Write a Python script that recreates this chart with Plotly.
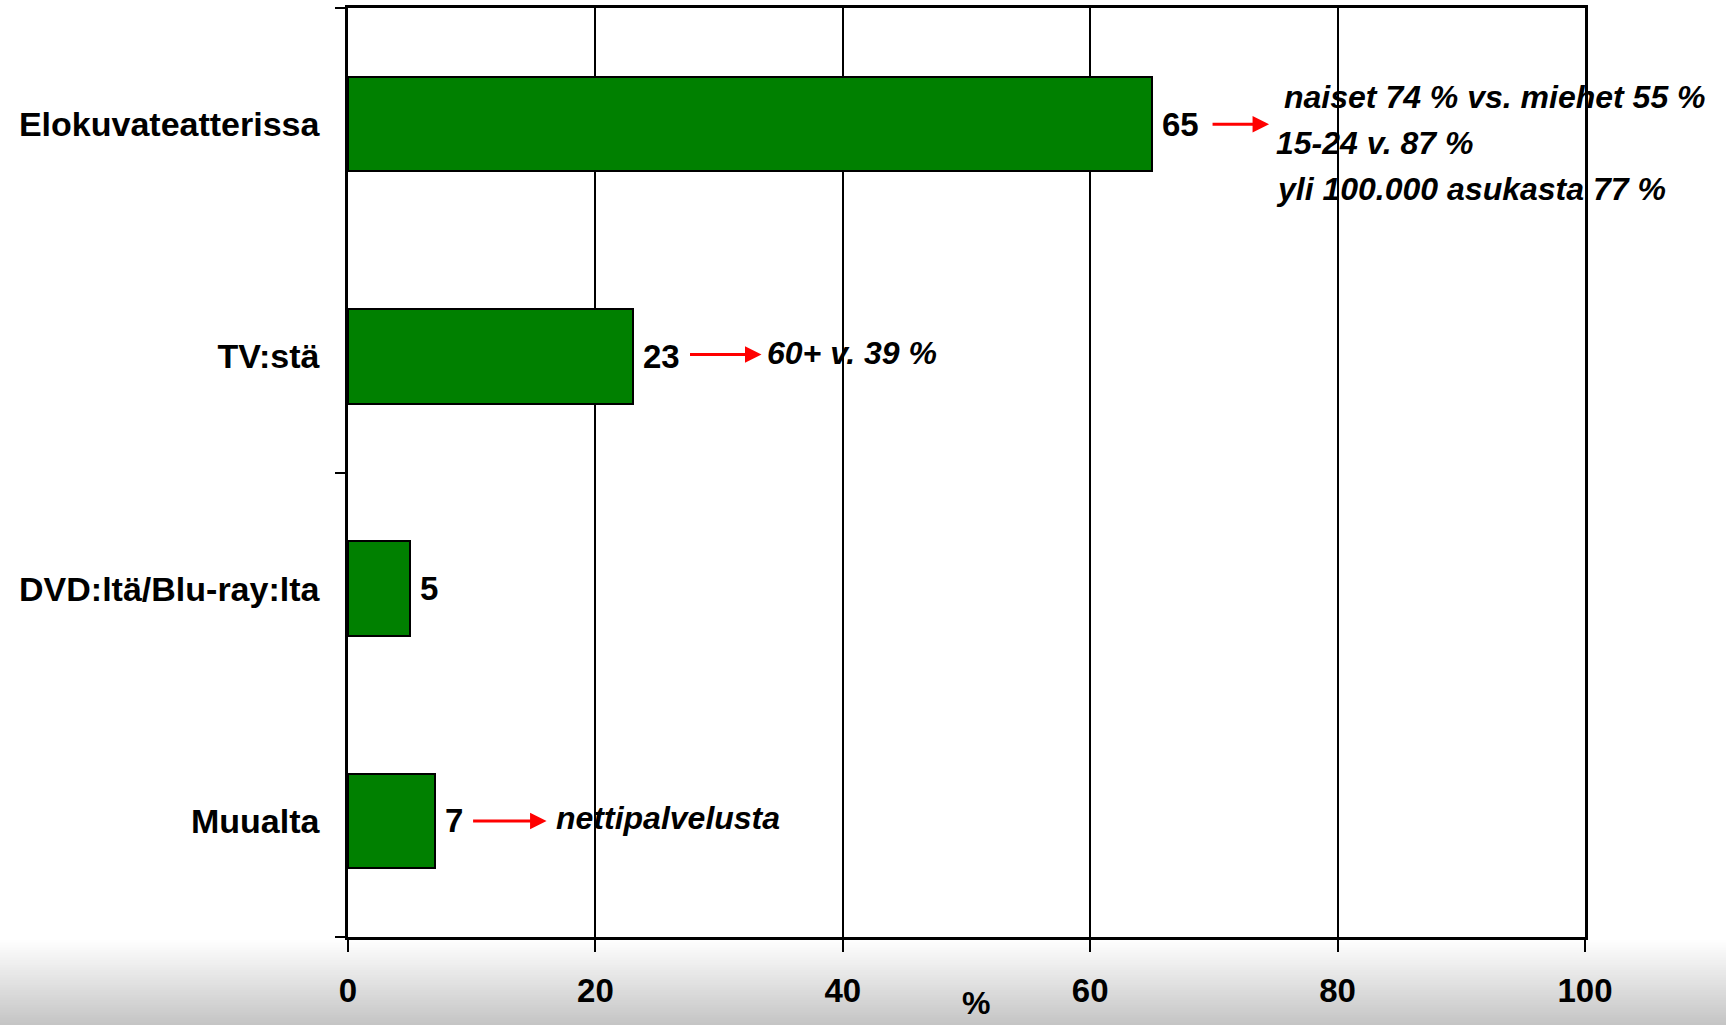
import plotly.graph_objects as go

# ---------------- data ----------------
categories = ["Elokuvateatterissa", "TV:stä", "DVD:ltä/Blu-ray:lta", "Muualta"]
values = [65, 23, 5, 7]
x_tick_values = [0, 20, 40, 60, 80, 100]
x_tick_labels = ["0", "20", "40", "60", "80", "100"]
x_title = "%"
callout_lines = {
    "Elokuvateatterissa": ["naiset 74 % vs. miehet 55 %", "15-24 v. 87 %", "yli 100.000 asukasta 77 %"],
    "TV:stä": ["60+ v. 39 %"],
    "Muualta": ["nettipalvelusta"],
}

# ---------------- style ----------------
W, H = 1726, 1025
ML, MR, MT, MB = 348, 141, 8, 88
PLOT_H = H - MT - MB
FONT = "Liberation Sans, Arial, sans-serif"
GREEN = "#008000"

# arrow styling per category: (head shift px from bar end, tail length px, y shift px)
arrow_style = {
    "Elokuvateatterissa": (117, 58, 0),
    "TV:stä": (129, 73, 2),
    "Muualta": (112, 75, 0),
}
# text styling per category: list of (x shift px from bar end, y shift px)
text_style = {
    "Elokuvateatterissa": [(130, 27), (122, -19), (122, -65)],
    "TV:stä": [(132, 3)],
    "Muualta": [(119, 3)],
}

fig = go.Figure()
fig.add_trace(go.Bar(
    y=categories, x=values, orientation="h",
    width=0.406,
    marker=dict(color=GREEN, line=dict(color="black", width=2)),
    hoverinfo="skip",
))
# invisible trace for the secondary (boundary-tick) axis
fig.add_trace(go.Scatter(x=[None], y=[None], yaxis="y2", showlegend=False, hoverinfo="skip"))

annotations = []
# value labels
for c, v in zip(categories, values):
    annotations.append(dict(
        x=v, y=c, xref="x", yref="y", text=str(v), showarrow=False,
        xanchor="left", yanchor="middle", xshift=8,
        font=dict(family=FONT, size=33, color="black", weight="bold"),
    ))
# arrows and callouts
for c, v in zip(categories, values):
    if c in arrow_style:
        hs, tl, ys = arrow_style[c]
        annotations.append(dict(
            x=v, y=c, xref="x", yref="y", text="", showarrow=True,
            xshift=hs, yshift=ys, ax=-tl, ay=0,
            arrowhead=2, arrowsize=1.1, arrowwidth=3, arrowcolor="#ff0000",
            standoff=0, startstandoff=0,
        ))
    for line, (xs, ys) in zip(callout_lines.get(c, []), text_style.get(c, [])):
        annotations.append(dict(
            x=v, y=c, xref="x", yref="y", text=line, showarrow=False,
            xanchor="left", yanchor="middle", xshift=xs, yshift=ys,
            font=dict(family=FONT, size=32, color="black", weight="bold", style="italic"),
        ))
# x axis title
annotations.append(dict(
    x=0.508, y=-(1003 - (H - MB)) / PLOT_H, xref="paper", yref="paper",
    text=x_title, showarrow=False, xanchor="center", yanchor="middle",
    font=dict(family=FONT, size=32, color="black", weight="bold"),
))

# background gradient at the bottom
shapes = []
g0, g1 = 940, H
n = 34
for i in range(n):
    p0 = g0 + (g1 - g0) * i / n
    p1 = g0 + (g1 - g0) * (i + 1) / n + 0.6
    t = (i + 0.5) / n
    c = int(round(255 - (255 - 196) * t))
    shapes.append(dict(
        type="rect", xref="paper", yref="paper", layer="below",
        x0=-ML / (W - ML - MR), x1=(W - ML) / (W - ML - MR),
        y0=-(p1 - (H - MB)) / PLOT_H, y1=-(p0 - (H - MB)) / PLOT_H,
        line=dict(width=0), fillcolor=f"rgb({c},{c},{c})",
    ))

fig.update_layout(
    width=W, height=H,
    margin=dict(l=ML, r=MR, t=MT, b=MB, autoexpand=False),
    paper_bgcolor="white", plot_bgcolor="white",
    showlegend=False,
    bargap=0,
    annotations=annotations,
    shapes=shapes,
    xaxis=dict(
        range=[0, 100], tickvals=x_tick_values, ticktext=x_tick_labels,
        showgrid=True, gridcolor="black", gridwidth=2,
        zeroline=False,
        showline=True, linecolor="black", linewidth=3, mirror=True,
        ticks="outside", ticklen=12, tickwidth=1.5, tickcolor="black",
        ticklabelstandoff=10,
        tickfont=dict(family=FONT, size=33, color="black", weight="bold"),
    ),
    yaxis=dict(
        autorange="reversed", type="category",
        showgrid=False, zeroline=False,
        showline=True, linecolor="black", linewidth=2.5, mirror=True,
        ticks="", ticklabelstandoff=19,
        tickfont=dict(family=FONT, size=34, color="black", weight="bold"),
    ),
    yaxis2=dict(
        overlaying="y", side="left", range=[3.5, -0.5],
        tickvals=[-0.5, 1.5, 3.5], showticklabels=False,
        ticks="outside", ticklen=12, tickwidth=1.5, tickcolor="black",
        showgrid=False, zeroline=False, showline=False,
    ),
)

fig.write_html("out.html", config={"displayModeBar": False},
               post_script="document.body.style.margin='0';")
